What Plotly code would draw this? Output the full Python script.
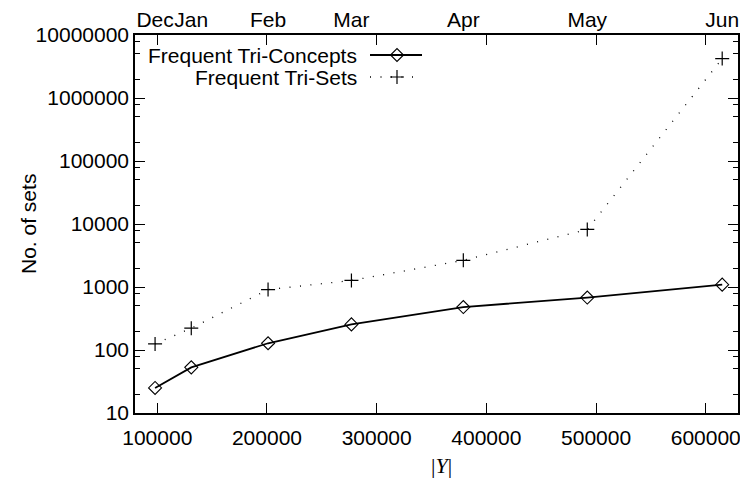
import plotly.graph_objects as go

# ---- data ----
months = ["Dec", "Jan", "Feb", "Mar", "Apr", "May", "Jun"]
y_size = [98000, 131000, 201000, 277000, 379000, 492000, 615000]
tri_concepts = [25, 53, 128, 255, 480, 680, 1090]
tri_sets = [125, 222, 910, 1270, 2650, 8200, 4220000]
x_ticks = [100000, 200000, 300000, 400000, 500000, 600000]
y_ticks = [10, 100, 1000, 10000, 100000, 1000000, 10000000]
y_minor = [k * 10 ** d for d in range(1, 7) for k in (2, 5, 8)]

# the page body adds an 8px offset, so the figure is drawn 8px smaller and shifted
OFF = 8
W, H = 748 - OFF, 479 - OFF
L, R, T, B = 135 - OFF, 738 - OFF, 35 - OFF, 413 - OFF
FONT = "Liberation Sans, Arial, sans-serif"
FS = 21

fig = go.Figure()

fig.add_trace(go.Scatter(
    x=y_size, y=tri_concepts, mode="lines+markers", name="Frequent Tri-Concepts",
    line=dict(color="black", width=1.8),
    marker=dict(symbol="diamond-open", size=10, color="black", line=dict(width=1.1)),
    showlegend=False))
fig.add_trace(go.Scatter(
    x=y_size, y=tri_sets, mode="lines+markers", name="Frequent Tri-Sets",
    line=dict(color="black", width=1.3, dash="1px,9.5px"),
    marker=dict(symbol="cross-thin-open", size=10, color="black", line=dict(width=1.2, color="black")),
    showlegend=False))

# custom gnuplot-style key (text on left, sample on right), drawn in a pixel-space overlay axis
key_y = [55 - OFF, 77 - OFF]
kx0, kx1, kxm = 370 - OFF, 422 - OFF, 397 - OFF
fig.add_trace(go.Scatter(x=[kx0, kx1], y=[key_y[0]] * 2, mode="lines",
                         line=dict(color="black", width=1.8), xaxis="x3", yaxis="y3",
                         showlegend=False, hoverinfo="skip"))
fig.add_trace(go.Scatter(x=[kxm], y=[key_y[0]], mode="markers",
                         marker=dict(symbol="diamond-open", size=10, color="black", line=dict(width=1.1)),
                         xaxis="x3", yaxis="y3", showlegend=False, hoverinfo="skip"))
fig.add_trace(go.Scatter(x=[kx0, kx1], y=[key_y[1]] * 2, mode="lines",
                         line=dict(color="black", width=1.3, dash="1px,9.5px"), xaxis="x3", yaxis="y3",
                         showlegend=False, hoverinfo="skip"))
fig.add_trace(go.Scatter(x=[kxm], y=[key_y[1]], mode="markers",
                         marker=dict(symbol="cross-thin-open", size=10, color="black", line=dict(width=1.2, color="black")),
                         xaxis="x3", yaxis="y3", showlegend=False, hoverinfo="skip"))
# invisible trace to activate top month axis
fig.add_trace(go.Scatter(x=y_size, y=tri_concepts, xaxis="x2", mode="markers",
                         marker=dict(opacity=0), showlegend=False, hoverinfo="skip"))


def px_x(p):
    return (p - OFF - L) / (R - L)


def px_y(p):
    return (B - (p - OFF)) / (B - T)


annotations = [
    dict(text="Frequent Tri-Concepts", x=px_x(359), y=px_y(55), xref="paper", yref="paper",
         xanchor="right", yanchor="middle", showarrow=False, font=dict(family=FONT, size=FS, color="black")),
    dict(text="Frequent Tri-Sets", x=px_x(359), y=px_y(77), xref="paper", yref="paper",
         xanchor="right", yanchor="middle", showarrow=False, font=dict(family=FONT, size=FS, color="black")),
    dict(text="No. of sets", x=px_x(28), y=0.5, xref="paper", yref="paper", textangle=-90,
         xanchor="center", yanchor="middle", showarrow=False, font=dict(family=FONT, size=FS, color="black")),
    dict(text="|<i>Y</i>|", x=px_x(441), y=px_y(465), xref="paper", yref="paper",
         xanchor="center", yanchor="middle", showarrow=False,
         font=dict(family="Liberation Serif, DejaVu Serif, serif", size=22, color="black")),
]

fig.update_layout(
    width=W, height=H,
    margin=dict(l=L, r=W - R, t=T, b=H - B, autoexpand=False),
    paper_bgcolor="white", plot_bgcolor="white",
    font=dict(family=FONT, size=FS, color="black"),
    annotations=annotations,
    xaxis=dict(range=[79700, 629400], tickmode="array", tickvals=x_ticks, automargin=False,
               ticktext=[str(v) for v in x_ticks], ticks="inside", ticklen=10, tickwidth=1,
               tickcolor="black", showline=True, linecolor="black", linewidth=1.5,
               mirror="ticks", showgrid=False, zeroline=False, tickangle=0, ticklabelstandoff=5),
    xaxis2=dict(overlaying="x", side="top", matches="x", tickmode="array", tickvals=y_size,
                ticktext=months, ticks="", showgrid=False, zeroline=False, showline=False,
                automargin=False, tickangle=0, tickfont=dict(family=FONT, size=FS),
                ticklabelstandoff=3),
    yaxis=dict(type="log", range=[1, 7], tickmode="array", tickvals=y_ticks, automargin=False,
               ticktext=[str(v) for v in y_ticks], ticks="inside", ticklen=10, tickwidth=1,
               tickcolor="black", showline=True, linecolor="black", linewidth=1.5,
               mirror="ticks", showgrid=False, zeroline=False,
               minor=dict(tickmode="array", tickvals=y_minor, ticks="inside", ticklen=5,
                          tickwidth=1, tickcolor="black", showgrid=False)),
    xaxis3=dict(overlaying="x", range=[L, R], visible=False, domain=[0, 1], automargin=False),
    yaxis3=dict(overlaying="y", range=[B, T], visible=False, domain=[0, 1], automargin=False),
)
fig.update_layout(xaxis3=dict(anchor="y3"), yaxis3=dict(anchor="x3"))

fig.write_html("out.html")
